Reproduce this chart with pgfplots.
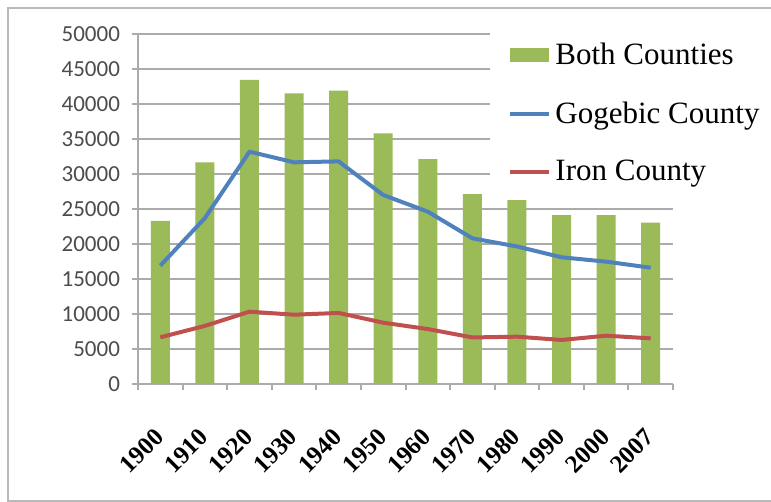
\documentclass[border=0pt]{standalone}
\usepackage{fontspec}
\setmainfont{Liberation Serif}
\newfontfamily\tickfont{Carlito}
\usepackage{pgfplots}
\pgfplotsset{compat=1.18}
\definecolor{bothgreen}{HTML}{9BBB59}
\definecolor{gogblue}{HTML}{4F81BD}
\definecolor{ironred}{HTML}{C0504D}
\definecolor{gridgray}{HTML}{ABABAB}

\begin{document}
\begin{tikzpicture}
\useasboundingbox (0,0) rectangle (385.5pt,251pt);
\draw[gray!55, line width=1pt] (4pt,0.5pt) rectangle (392pt,247pt);
\begin{axis}[
    at={(69pt,59pt)}, anchor=south west,
    scale only axis, width=267.5pt, height=175pt,
    xmin=-0.5, xmax=11.5, ymin=0, ymax=50000,
    xtick={-0.5,0.5,...,11.5},
    x tick label as interval,
    xticklabels={1900,1910,1920,1930,1940,1950,1960,1970,1980,1990,2000,2007},
    xticklabel style={font=\bfseries\fontsize{12.5}{15}\selectfont,
        yshift=-19pt, xshift=2pt, rotate=45, anchor=east},
    ytick={0,5000,...,50000},
    scaled y ticks=false,
    yticklabel style={font=\tickfont\fontsize{11.5}{14}\selectfont, text=black!70,
        xshift=-2.5pt},
    /pgf/number format/.cd, 1000 sep={}, assume math mode=true, /pgfplots/.cd,
    ymajorgrids, grid style={gridgray, line width=1pt},
    axis x line*=bottom, axis y line*=left,
    axis line style={gridgray, line width=1pt, -},
    tick align=outside, tick style={gridgray, line width=1pt},
    major tick length=3pt,
    legend style={at={(0.658,1.021)}, anchor=north west, fill=white, draw=none,
        inner xsep=9pt, inner ysep=6pt,
        font=\fontsize{15.5}{18}\selectfont, row sep=13pt},
    legend cell align=left,
]
\addplot[ybar, bar width=9.5pt, fill=bothgreen, draw=none,
    legend image code/.code={\fill[bothgreen] (0pt,-3.5pt) rectangle (19.5pt,3.5pt);}]
    coordinates {(0,23300) (1,31670) (2,43430) (3,41530) (4,41900) (5,35810)
                 (6,32140) (7,27140) (8,26430) (9,24140) (10,24140) (11,23040)};
\addlegendentry{Both Counties}
\addplot[gogblue, line width=2pt, line join=round, mark=none,
    legend image code/.code={\draw[gogblue, line width=2pt] (0pt,0pt) -- (19.5pt,0pt);}]
    coordinates {(0,16900) (1,23700) (2,33190) (3,31670) (4,31800) (5,27000)
                 (6,24620) (7,20810) (8,19650) (9,18100) (10,17480) (11,16610)};
\addlegendentry{Gogebic County}
\addplot[ironred, line width=2pt, line join=round, mark=none,
    legend image code/.code={\draw[ironred, line width=2pt] (0pt,0pt) -- (19.5pt,0pt);}]
    coordinates {(0,6670) (1,8300) (2,10330) (3,9900) (4,10150) (5,8760)
                 (6,7850) (7,6650) (8,6760) (9,6290) (10,6900) (11,6520)};
\addlegendentry{Iron County}
\end{axis}
\end{tikzpicture}
\end{document}
